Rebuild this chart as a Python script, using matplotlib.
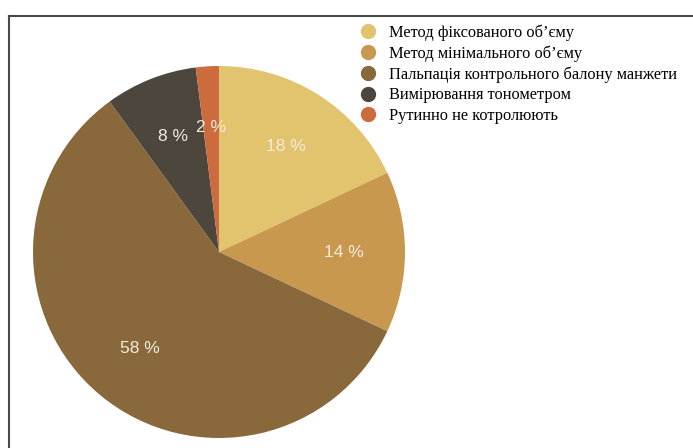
import matplotlib
matplotlib.use("Agg")
import matplotlib.pyplot as plt
from matplotlib.lines import Line2D

labels = [
    "Метод фіксованого об’єму",
    "Метод мінімального об’єму",
    "Пальпація контрольного балону манжети",
    "Вимірювання тонометром",
    "Рутинно не котролюють",
]
shares = [18, 14, 58, 8, 2]
colors = ["#E2C46E", "#C8984F", "#89693B", "#4D463D", "#CB6B3E"]

W, H = 693, 448
fig = plt.figure(figsize=(W / 100, H / 100), dpi=100)

# pie centred at (219, 252) px with radius 186 px
cx, cy, r = 219, 252, 186
ax = fig.add_axes([(cx - r) / W, (H - cy - r) / H, 2 * r / W, 2 * r / H])

wedges, texts, autotexts = ax.pie(
    shares,
    colors=colors,
    startangle=90,
    counterclock=False,
    autopct=lambda p: f"{p:.0f} %",
    pctdistance=0.67,
    textprops=dict(color="#F3EBDD", fontsize=12.5, family="Liberation Sans"),
)
ax.set_xlim(-1, 1)
ax.set_ylim(-1, 1)
ax.set_aspect("equal")
ax.axis("off")

handles = [
    Line2D([], [], marker="o", linestyle="none", markersize=10,
           markerfacecolor=c, markeredgecolor=c)
    for c in colors
]
fig.legend(
    handles, labels,
    loc="upper left",
    bbox_to_anchor=(358 / W, 1 - 24.5 / H),
    frameon=False,
    prop=dict(family="Liberation Serif", size=11.8),
    handletextpad=0.72,
    labelspacing=0.27,
    handlelength=1.2,
    borderaxespad=0,
    borderpad=0,
)

# frame lines along the left and top edges
frame = dict(color="#4A4A4A", linewidth=1.5, transform=fig.transFigure)
fig.add_artist(Line2D([9 / W, 9 / W], [0, 1 - 16 / H], **frame))
fig.add_artist(Line2D([9 / W, 1], [1 - 16 / H, 1 - 16 / H], **frame))

fig.savefig("out.png", dpi=100)
